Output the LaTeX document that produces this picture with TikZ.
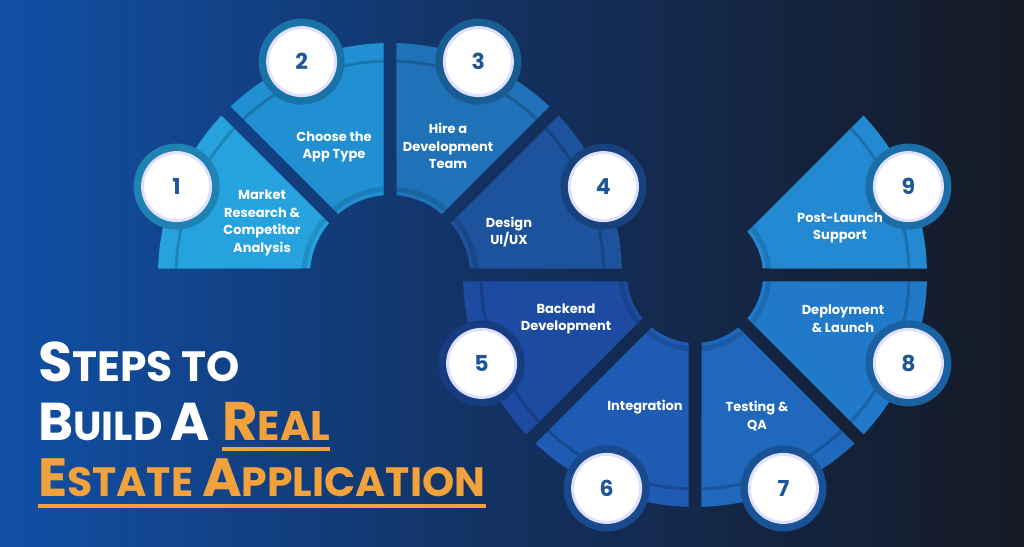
\documentclass[tikz,border=0pt]{standalone}
\usepackage{fontspec}
\setmainfont{Poppins}
\definecolor{bgL}{HTML}{1150A6}
\definecolor{bgM}{HTML}{13305F}
\definecolor{bgR}{HTML}{151A24}
\definecolor{cA}{HTML}{26A3DF}
\definecolor{cB}{HTML}{2090D2}
\definecolor{cC}{HTML}{1F72B8}
\definecolor{cD}{HTML}{1D539C}
\definecolor{cE}{HTML}{1E4BA2}
\definecolor{cF}{HTML}{1F5BB2}
\definecolor{cG}{HTML}{1F68BC}
\definecolor{cH}{HTML}{2079C9}
\definecolor{cI}{HTML}{2289D2}
\definecolor{numc}{HTML}{1F5796}
\definecolor{org}{HTML}{F2A23C}
\tikzset{
  lbl/.style={text=white,font=\fontsize{13}{17.5}\selectfont\bfseries,align=center},
  num/.style={circle,fill=white,draw=blue!12,line width=3pt,minimum size=68pt,inner sep=0pt,text=numc,font=\fontsize{22}{22}\selectfont\bfseries}
}
% #1 cx #2 cy #3 a1 #4 a2 #5 colour #6 inner radius
\newcommand{\mysector}[6]{%
  \begin{scope}[shift={(#1,#2)}]
  \pgfmathsetmacro{\di}{asin(6.5/#6)}
  \fill[#5] ({#3+\di}:#6) -- ({#3+1.6}:232) arc[start angle={#3+1.6},end angle={#4-1.6},radius=232]
     -- ({#4-\di}:#6) arc[start angle={#4-\di},end angle={#3+\di},radius=#6] -- cycle;
  \draw[black,opacity=0.18,line width=3pt] ({#3+1.8}:214) arc[start angle={#3+1.8},end angle={#4-1.8},radius=214];
  \pgfmathsetmacro{\ri}{#6+6}
  \pgfmathsetmacro{\dj}{asin(7/\ri)}
  \draw[black,opacity=0.12,line width=5pt] ({#3+\dj}:\ri) arc[start angle={#3+\dj},end angle={#4-\dj},radius=\ri];
  \end{scope}}
\newcommand{\badge}[5]{%
  \fill[#4!80!black] ($(#1,#2)+(#3:231)$) circle (43);
  \node[num] (n#5) at ($(#1,#2)+(#3:231)$) {#5};}
\usetikzlibrary{calc}
\begin{document}
\begin{tikzpicture}[x=1pt,y=1pt]
\useasboundingbox (0,0) rectangle (1024,546);
\shade[left color=bgL,right color=bgR,middle color=bgM] (0,0) rectangle (1024,546);
% top ring
\mysector{390}{271}{135}{180}{cA}{80}
\mysector{390}{271}{90}{135}{cB}{80}
\mysector{390}{271}{45}{90}{cC}{80}
\mysector{390}{271}{0}{45}{cD}{80}
% bottom ring
\mysector{695}{271}{0}{45}{cI}{68}
\mysector{695}{271}{-45}{0}{cH}{68}
\mysector{695}{271}{-90}{-45}{cG}{68}
\mysector{695}{271}{-135}{-90}{cF}{68}
\mysector{695}{271}{-180}{-135}{cE}{68}
% badges
\badge{390}{271}{157.5}{cA}{1}
\badge{390}{271}{112.5}{cB}{2}
\badge{390}{271}{67.5}{cC}{3}
\badge{390}{271}{22.5}{cD}{4}
\badge{695}{271}{-157.5}{cE}{5}
\badge{695}{271}{-112.5}{cF}{6}
\badge{695}{271}{-67.5}{cG}{7}
\badge{695}{271}{-22.5}{cH}{8}
\badge{695}{271}{22.5}{cI}{9}
% labels
\node[lbl] (l1) at (262,323) {Market\\Research \&\\Competitor\\Analysis};
\node[lbl] (l2) at (334,399) {Choose the\\App Type};
\node[lbl] (l3) at (448,400) {Hire a\\Development\\Team};
\node[lbl] (l4) at (509,314) {Design\\UI/UX};
\node[lbl] (l5) at (566,227) {Backend\\Development};
\node[lbl] (l6) at (645,139) {Integration};
\node[lbl] (l7) at (757,130) {Testing \&\\QA};
\node[lbl] (l8) at (843,227) {Deployment\\\& Launch};
\node[lbl] (l9) at (840,318) {Post-Launch\\Support};
% title
\node[anchor=base west,inner sep=0pt,text=white,font=\bfseries] (t1) at (38,164)
  {\resizebox{202pt}{!}{{\fontsize{50}{50}\selectfont S}{\fontsize{38}{38}\selectfont TEPS TO}}};
\node[anchor=base west,inner sep=0pt,text=white,font=\bfseries] (t2a) at (38,106)
  {\resizebox{172pt}{!}{{\fontsize{50}{50}\selectfont B}{\fontsize{38}{38}\selectfont UILD }{\fontsize{50}{50}\selectfont A}}};
\node[anchor=base west,inner sep=0pt,text=org,font=\bfseries] (t2b) at (222,106)
  {\resizebox{108pt}{!}{{\fontsize{50}{50}\selectfont R}{\fontsize{38}{38}\selectfont EAL}}};
\node[anchor=base west,inner sep=0pt,text=org,font=\bfseries] (t3) at (38,50)
  {\resizebox{447pt}{!}{{\fontsize{50}{50}\selectfont E}{\fontsize{38}{38}\selectfont STATE }{\fontsize{50}{50}\selectfont A}{\fontsize{38}{38}\selectfont PPLICATION}}};
\fill[org] (222,95) rectangle (330,99);
\fill[org] (38,38) rectangle (486,42);
\end{tikzpicture}
\end{document}
